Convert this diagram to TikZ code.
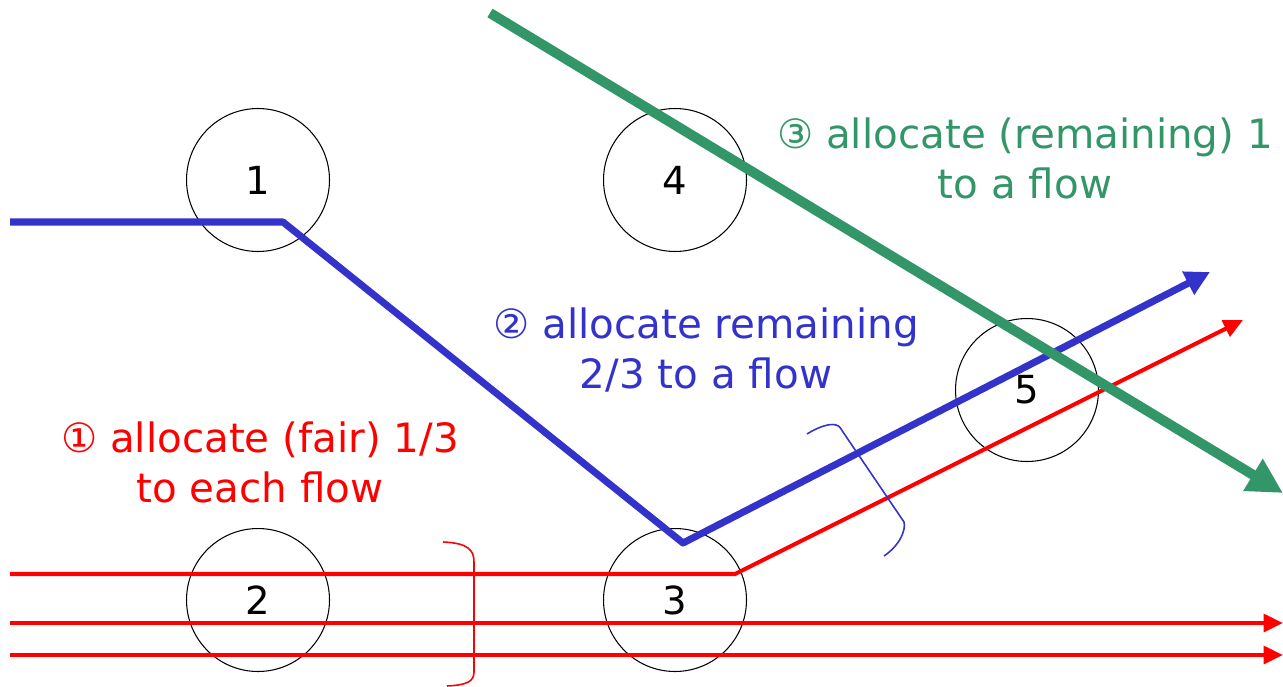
\documentclass[tikz,border=0pt]{standalone}
\usepackage{fontspec}
\setmainfont{DejaVu Sans}
\usetikzlibrary{arrows.meta}

\definecolor{flowred}{RGB}{255,0,0}
\definecolor{flowblue}{RGB}{51,51,204}
\definecolor{flowgreen}{RGB}{51,150,104}

\begin{document}
\begin{tikzpicture}[
    x = 0.02cm,
    y = -0.02cm,
    router/.style = {
        circle,
        draw = black,
        line width = 0.6pt,
        minimum size = 2.86cm,
        inner sep = 0pt,
        font = \fontsize{22}{26}\selectfont
    },
    note/.style = {
        align = center,
        inner sep = 0pt,
        font = \fontsize{23}{28.5}\selectfont
    },
    redflow/.style = {
        draw = flowred,
        line width = 2.3pt,
        -{Triangle[length=11pt,width=10pt]}
    },
    blueflow/.style = {
        draw = flowblue,
        line width = 4pt,
        line join = round,
        -{Triangle[length=14pt,width=14pt]}
    },
    greenflow/.style = {
        draw = flowgreen,
        line width = 5.7pt,
        -{Triangle[length=20pt,width=20pt]}
    },
    brace/.style = {
        line width = 0.9pt
    }
]

    \useasboundingbox (0,0) rectangle (1283,686);

    % Routers
    \node [router] (n1) at (258,180) {1};
    \node [router] (n4) at (675,180) {4};
    \node [router] (n2) at (258,600) {2};
    \node [router] (n3) at (675,600) {3};
    \node [router] (n5) at (1027,390) {5};

    % Flow end points and bends
    \coordinate (r1s) at (10,574);
    \coordinate (r1b) at (735,574);
    \coordinate (r1e) at (1243,320);
    \coordinate (r2s) at (10,623);
    \coordinate (r2e) at (1283,623);
    \coordinate (r3s) at (10,655);
    \coordinate (r3e) at (1283,655);
    \coordinate (bs) at (10,222);
    \coordinate (bb1) at (283,222);
    \coordinate (bb2) at (683,543);
    \coordinate (be) at (1210,272);
    \coordinate (gs) at (490,13);
    \coordinate (ge) at (1283,493);

    % Flows
    \draw [redflow] (r1s) -- (r1b) -- (r1e);
    \draw [redflow] (r2s) -- (r2e);
    \draw [redflow] (r3s) -- (r3e);
    \draw [blueflow] (bs) -- (bb1) -- (bb2) -- (be);
    \draw [greenflow] (gs) -- (ge);

    % Braces
    \draw [brace, flowred] (443,542) .. controls (468,543) and (474,550) .. (474,562)
        -- (474,672) .. controls (474,682) and (466,685) .. (447,686);
    \draw [brace, flowblue] (807,434) .. controls (818,427) and (830,423) .. (836,425)
        .. controls (840,426) and (841,429) .. (843,432)
        -- (904,522) .. controls (906,530) and (900,545) .. (884,556);

    % Steps
    \node [note, text = flowred] (t1) at (260,462) {① allocate (fair) 1/3\\to each flow};
    \node [note, text = flowblue] (t2) at (706,350) {② allocate remaining\\2/3 to a flow};
    \node [note, text = flowgreen] (t3) at (1025,158) {③ allocate (remaining) 1\\to a flow};

\end{tikzpicture}
\end{document}
